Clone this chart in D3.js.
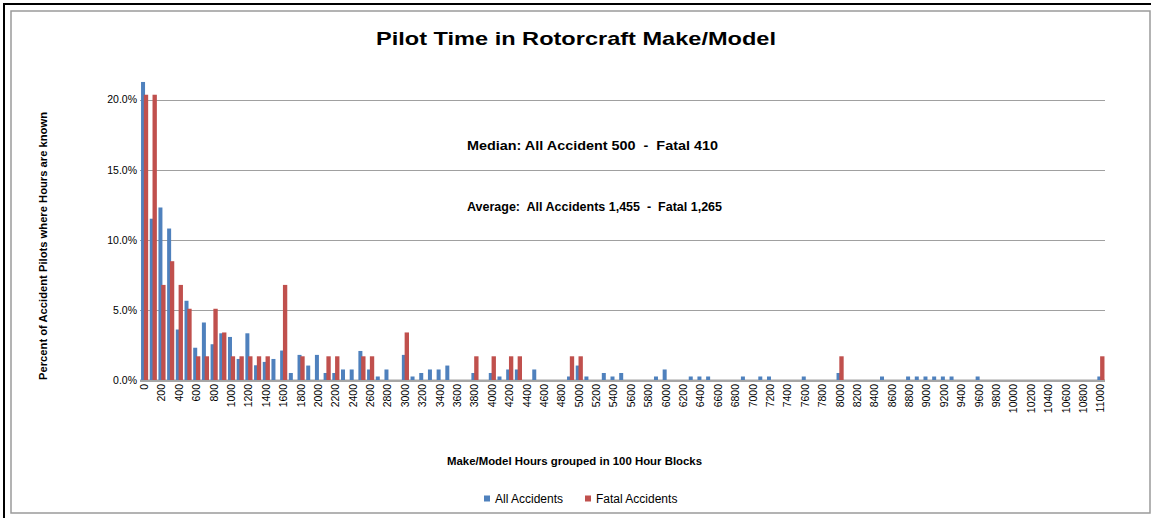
<!DOCTYPE html>
<html><head><meta charset="utf-8">
<script src="https://cdn.jsdelivr.net/npm/d3@7"></script>
<style>body{margin:0;background:#fff}svg{display:block}text{font-family:"Liberation Sans",Arial,sans-serif;fill:#000}</style>
</head><body><svg id="c" width="1151" height="518"></svg>
<script>
const categories = d3.range(0, 11001, 100);
const allAccidents = [
 21.25, 11.5, 12.3, 10.8, 3.6, 5.65, 2.3, 4.1, 2.55, 3.33,
 3.07, 1.5, 3.33, 1.05, 1.29, 1.5, 2.1, 0.5, 1.79, 1.03,
 1.79, 0.5, 0.5, 0.75, 0.75, 2.07, 0.75, 0.25, 0.75, 0,
 1.79, 0.25, 0.5, 0.75, 0.75, 1.03, 0, 0, 0.5, 0,
 0.5, 0.25, 0.75, 0.75, 0, 0.75, 0, 0, 0, 0.25,
 1.03, 0.25, 0, 0.5, 0.25, 0.5, 0, 0, 0, 0.25,
 0.75, 0, 0, 0.25, 0.25, 0.25, 0, 0, 0, 0.25,
 0, 0.25, 0.25, 0, 0, 0, 0.25, 0, 0, 0,
 0.5, 0, 0, 0, 0, 0.25, 0, 0, 0.25, 0.25,
 0.25, 0.25, 0.25, 0.25, 0, 0, 0.25, 0, 0, 0,
 0, 0, 0, 0, 0, 0, 0, 0, 0, 0,
 0.25];
const fatalAccidents = [
 20.34, 20.34, 6.78, 8.47, 6.78, 5.08, 1.69, 1.69, 5.08, 3.39,
 1.69, 1.69, 1.69, 1.69, 1.69, 0, 6.78, 0, 1.69, 0,
 0, 1.69, 1.69, 0, 0, 1.69, 1.69, 0, 0, 0,
 3.39, 0, 0, 0, 0, 0, 0, 0, 1.69, 0,
 1.69, 0, 1.69, 1.69, 0, 0, 0, 0, 0, 1.69,
 1.69, 0, 0, 0, 0, 0, 0, 0, 0, 0,
 0, 0, 0, 0, 0, 0, 0, 0, 0, 0,
 0, 0, 0, 0, 0, 0, 0, 0, 0, 0,
 1.69, 0, 0, 0, 0, 0, 0, 0, 0, 0,
 0, 0, 0, 0, 0, 0, 0, 0, 0, 0,
 0, 0, 0, 0, 0, 0, 0, 0, 0, 0,
 1.69];
const yTicks = [0, 0.05, 0.10, 0.15, 0.20];
const seriesNames = ["All Accidents", "Fatal Accidents"];
const colors = ["#4F81BD", "#C0504D"];
const titleText = "Pilot Time in Rotorcraft Make/Model";
const notes = ["Median: All Accident 500  -  Fatal 410", "Average:  All Accidents 1,455  -  Fatal 1,265"];

const svg = d3.select("#c");
// frames
svg.append("path").attr("d","M4,518 V4 H1151").attr("fill","none").attr("stroke","#000").attr("stroke-width",2);
svg.append("rect").attr("x",11).attr("y",11).attr("width",1139).attr("height",502).attr("fill","#fff").attr("stroke","#9a9a9a").attr("stroke-width",1.5);

const x = d3.scaleBand().domain(categories).range([140, 1105]).paddingInner(0).paddingOuter(0);
const y = d3.scaleLinear().domain([0, 0.2]).range([380, 99.5]);
const bw = x.bandwidth();

// gridlines
svg.append("g").selectAll("line").data(yTicks.filter(d=>d>0)).join("line")
  .attr("x1",140).attr("x2",1105).attr("y1",d=>Math.round(y(d))+0.5).attr("y2",d=>Math.round(y(d))+0.5)
  .attr("stroke","#a0a0a0").attr("stroke-width",1);

// y labels
const yAxis = d3.axisLeft(y).tickValues(yTicks).tickFormat(d3.format(".1%")).tickSize(0).tickPadding(0);
const ya = svg.append("g").attr("transform","translate(137,0)").call(yAxis);
ya.select(".domain").remove();
ya.selectAll("text").style("font-size","10.5px").style("font-family","Liberation Sans, Arial, sans-serif").attr("fill","#000");

// floor
svg.append("rect").attr("x",140).attr("y",379.5).attr("width",965).attr("height",2.5).attr("fill","#a6a6a6");

// bars
const gB = svg.append("g");
gB.selectAll("rect.a").data(categories).join("rect").attr("class","a")
  .attr("x",d=>x(d)+bw*0.12).attr("width",bw*0.46)
  .attr("y",(d,i)=>y(allAccidents[i]/100)).attr("height",(d,i)=>y(0)-y(allAccidents[i]/100))
  .attr("fill",colors[0]);
gB.selectAll("rect.f").data(categories).join("rect").attr("class","f")
  .attr("x",d=>x(d)+bw*0.44).attr("width",bw*0.5)
  .attr("y",(d,i)=>y(fatalAccidents[i]/100)).attr("height",(d,i)=>y(0)-y(fatalAccidents[i]/100))
  .attr("fill",colors[1]);

// x axis labels
const xAxis = d3.axisBottom(x).tickValues(categories.filter((d,i)=>i%2===0)).tickSize(0).tickPadding(0);
const xa = svg.append("g").attr("transform","translate(0,384)").call(xAxis);
xa.select(".domain").remove();
xa.selectAll("text").style("font-size","10.5px").style("font-family","Liberation Sans, Arial, sans-serif").attr("fill","#000")
  .attr("transform","rotate(-90)").attr("text-anchor","end").attr("x",0).attr("y",0).attr("dy","0.35em").attr("dx",0);

// title
svg.append("text").attr("x",576).attr("y",45).attr("text-anchor","middle")
  .style("font-size","19px").style("font-weight","bold").attr("textLength",400).attr("lengthAdjust","spacingAndGlyphs").text(titleText);

// notes
svg.append("text").attr("x",467).attr("y",150).style("font-size","12.5px").style("font-weight","bold").style("white-space","pre")
  .attr("textLength",251).attr("lengthAdjust","spacingAndGlyphs").text(notes[0]);
svg.append("text").attr("x",467).attr("y",211).style("font-size","12.5px").style("font-weight","bold").style("white-space","pre")
  .attr("textLength",255).attr("lengthAdjust","spacingAndGlyphs").text(notes[1]);

// y title
svg.append("text").attr("transform","translate(47,246) rotate(-90)").attr("text-anchor","middle")
  .style("font-size","10.5px").style("font-weight","bold").attr("textLength",268).attr("lengthAdjust","spacingAndGlyphs")
  .text("Percent of Accident Pilots where Hours are known");
// x title
svg.append("text").attr("x",574.5).attr("y",465).attr("text-anchor","middle")
  .style("font-size","11px").style("font-weight","bold").attr("textLength",255).attr("lengthAdjust","spacingAndGlyphs")
  .text("Make/Model Hours grouped in 100 Hour Blocks");

// legend
const leg = [{x:484, tx:495}, {x:585, tx:596}];
leg.forEach((l,i)=>{
  svg.append("rect").attr("x",l.x).attr("y",495.5).attr("width",6).attr("height",6).attr("fill",colors[i]);
  svg.append("text").attr("x",l.tx).attr("y",502.5).style("font-size","12px").text(seriesNames[i]);
});
</script></body></html>
